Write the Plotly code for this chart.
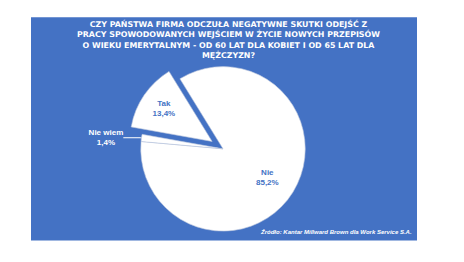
import plotly.graph_objects as go

labels = ["Nie", "Nie wiem", "Tak"]
values = [85.2, 1.4, 13.4]
pulls = [0, 0, 0.16]
title_lines = [
    "CZY PAŃSTWA FIRMA ODCZUŁA NEGATYWNE SKUTKI ODEJŚĆ Z",
    "PRACY SPOWODOWANYCH WEJŚCIEM W ŻYCIE NOWYCH PRZEPISÓW",
    "O WIEKU EMERYTALNYM - OD 60 LAT DLA KOBIET I OD 65 LAT DLA",
    "MĘŻCZYZN?",
]
source = "Źródło: Kantar Millward Brown dla Work Service S.A."

W, H = 464, 262
BLUE = "#4472C4"
FONT = "Liberation Sans, Arial"

def px(x):
    return x / W

def py(y):
    return (H - y) / H

def fmt(v):
    return f"{v:.1f}".replace(".", ",") + "%"

texts = ["", f"<b>{labels[1]}<br>{fmt(values[1])}</b>", f"<b>{labels[2]}<br>{fmt(values[2])}</b>"]

fig = go.Figure()
fig.add_trace(go.Pie(
    labels=labels,
    values=values,
    pull=pulls,
    sort=False,
    direction="clockwise",
    rotation=-31.6,
    marker=dict(colors=["white", "white", "white"], line=dict(color="#b8c4dc", width=0.6)),
    text=texts,
    textinfo="text",
    textposition=["none", "outside", "inside"],
    insidetextorientation="horizontal",
    insidetextfont=dict(family=FONT, size=8, color=BLUE),
    outsidetextfont=dict(family=FONT, size=8, color="white"),
    domain=dict(x=[px(123), px(323)], y=[py(256), py(56)]),
    showlegend=False,
    hoverinfo="label+percent",
))

fig.add_shape(type="rect", xref="paper", yref="paper",
              x0=px(31), x1=px(417), y0=py(252), y1=py(18),
              fillcolor=BLUE, line=dict(width=0), layer="below")

# label for the large slice
fig.add_annotation(xref="paper", yref="paper", x=px(267), y=py(186),
                   xanchor="center", yanchor="middle", showarrow=False,
                   text=f"<b>{labels[0]}<br>{fmt(values[0])}</b>",
                   font=dict(family=FONT, size=8, color=BLUE), align="center")

fig.add_annotation(xref="paper", yref="paper", x=px(228), y=py(17.5),
                   xanchor="center", yanchor="top", showarrow=False,
                   text="<b>" + "<br>".join(title_lines) + "</b>",
                   font=dict(family="DejaVu Sans", size=7.9, color="white"),
                   align="center")

fig.add_annotation(xref="paper", yref="paper", x=px(414), y=py(243),
                   xanchor="right", yanchor="middle", showarrow=False,
                   text="<b><i>" + source + "</i></b>",
                   font=dict(family=FONT, size=6, color="white"))

fig.update_layout(
    width=W, height=H,
    margin=dict(l=0, r=0, t=0, b=0),
    paper_bgcolor="white",
    separators=",.",
)

fig.write_html("out.html")
